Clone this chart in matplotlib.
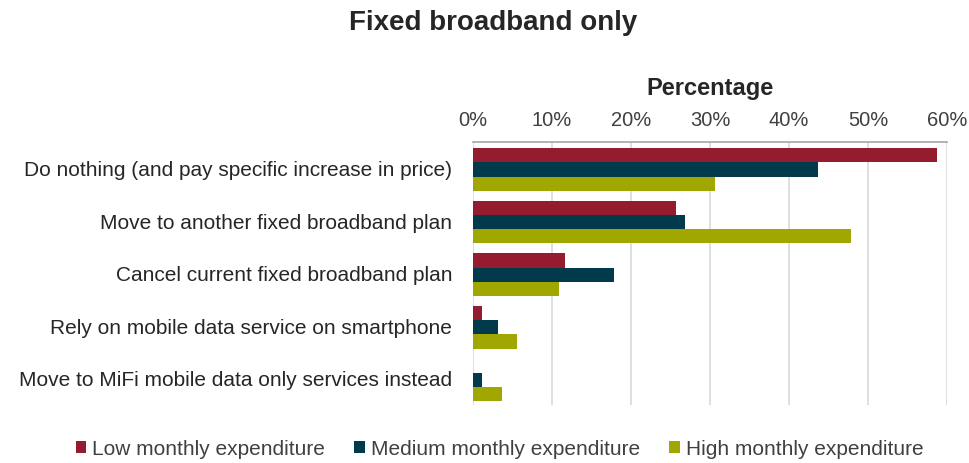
import matplotlib
matplotlib.use("Agg")
import matplotlib.pyplot as plt
import numpy as np
from matplotlib.ticker import PercentFormatter

plt.rcParams['font.family'] = ['Liberation Sans', 'DejaVu Sans']

categories = [
    "Do nothing (and pay specific increase in price)",
    "Move to another fixed broadband plan",
    "Cancel current fixed broadband plan",
    "Rely on mobile data service on smartphone",
    "Move to MiFi mobile data only services instead",
]
series_names = ["Low monthly expenditure", "Medium monthly expenditure", "High monthly expenditure"]
low = [58.7, 25.7, 11.6, 1.1, 0.0]
medium = [43.7, 26.9, 17.9, 3.2, 1.1]
high = [30.6, 47.8, 10.9, 5.6, 3.7]
colors = ["#951c2f", "#003a4b", "#9fa700"]
xticks = [0, 10, 20, 30, 40, 50, 60]

fig = plt.figure(figsize=(9.7, 4.63), dpi=100)
ax = fig.add_axes([0.4876, 0.125, 0.4886, 0.568])

y = np.arange(len(categories))
h = 0.27
for i, (vals, name, c) in enumerate(zip([low, medium, high], series_names, colors)):
    ax.barh(y + (i - 1) * h + 0.02, vals, height=h, color=c, label=name)

ax.set_ylim(len(categories) - 0.5, -0.5)
ax.set_xlim(0, 60)
ax.set_xticks(xticks)
ax.xaxis.set_major_formatter(PercentFormatter(decimals=0))
ax.xaxis.tick_top()
ax.xaxis.set_label_position('top')
ax.set_xlabel("Percentage", fontsize=17, fontweight='bold', color='#262626', labelpad=11)
ax.set_yticks(y)
ax.set_yticklabels(categories)
ax.tick_params(axis='x', length=0, labelsize=14.5, labelcolor='#404040', pad=9)
ax.tick_params(axis='y', length=0, labelsize=15, labelcolor='#262626', pad=15)
ax.grid(axis='x', color='#d9d9d9', linewidth=1.2)
ax.set_axisbelow(True)
for s in ['bottom', 'right', 'left']:
    ax.spines[s].set_visible(False)
ax.spines['top'].set_color('#a6a6a6')
ax.spines['top'].set_linewidth(1.2)

fig.text(0.508, 0.950, "Fixed broadband only", ha='center', va='center', fontsize=20, fontweight='bold', color='#262626')

fig.legend(loc='center', bbox_to_anchor=(0.515, 0.03), ncol=3, frameon=False, fontsize=15,
           handlelength=0.5, handleheight=0.5, handletextpad=0.3, columnspacing=1.4,
           labelcolor='#404040')

fig.savefig("out.png", dpi=100)
